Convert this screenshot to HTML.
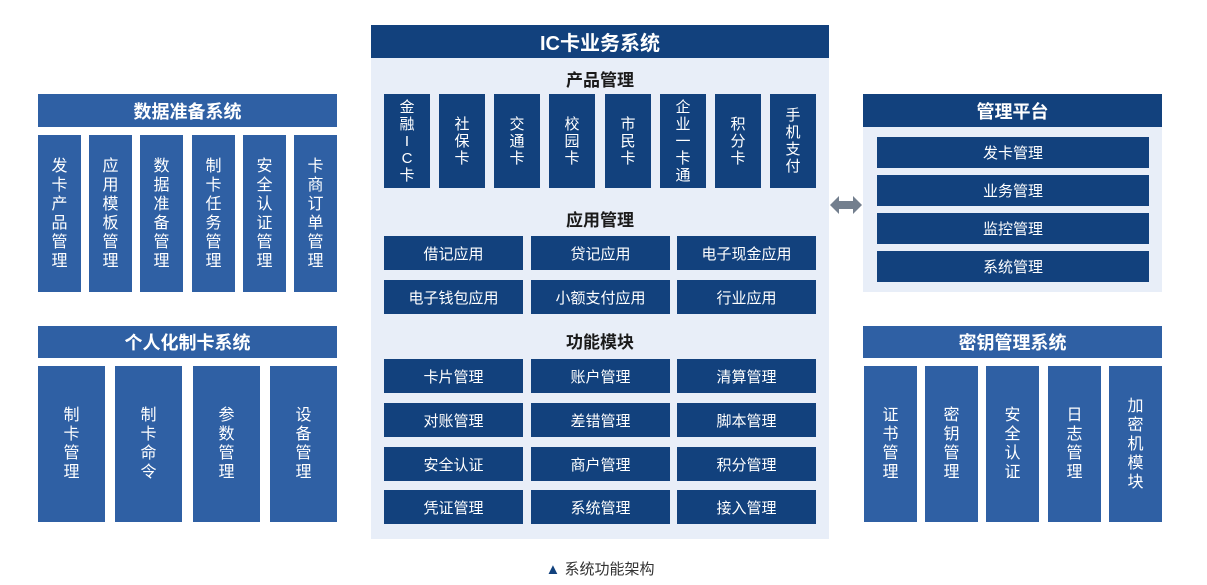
<!DOCTYPE html>
<html><head><meta charset="utf-8"><style>
*{margin:0;padding:0;box-sizing:border-box}
body{width:1207px;height:585px;background:#fff;position:relative;overflow:hidden;font-family:"Liberation Sans","Noto Sans CJK SC",sans-serif}
div{position:absolute}
.n{background:#12417d;color:#fff}
.s{background:#2f60a4;color:#fff}
.lt{background:#e8eef8}
.h{display:flex;align-items:center;justify-content:center;font-weight:bold;font-size:18px;color:#fff}
.c{display:flex;align-items:center;justify-content:center;text-align:center;font-size:15px;color:#fff}
.v{display:flex;align-items:center;justify-content:center;text-align:center;font-size:16px;line-height:19px;color:#fff}
.p{font-size:15px;line-height:17px}
.t{font-weight:bold;font-size:17px;color:#1a1a1a;text-align:center;width:458px;left:371px}
</style></head><body>
<div class="lt" style="left:371px;top:25px;width:458px;height:514px"></div>
<div class="n h" style="left:371px;top:25px;width:458px;height:33px;font-size:20px">IC卡业务系统</div>
<div class="t" style="top:66px">产品管理</div>
<div class="n v p" style="left:384px;top:94px;width:46px;height:94px">金<br>融<br>I<br>C<br>卡</div>
<div class="n v p" style="left:439px;top:94px;width:46px;height:94px">社<br>保<br>卡</div>
<div class="n v p" style="left:494px;top:94px;width:46px;height:94px">交<br>通<br>卡</div>
<div class="n v p" style="left:549px;top:94px;width:46px;height:94px">校<br>园<br>卡</div>
<div class="n v p" style="left:605px;top:94px;width:46px;height:94px">市<br>民<br>卡</div>
<div class="n v p" style="left:660px;top:94px;width:46px;height:94px">企<br>业<br>一<br>卡<br>通</div>
<div class="n v p" style="left:715px;top:94px;width:46px;height:94px">积<br>分<br>卡</div>
<div class="n v p" style="left:770px;top:94px;width:46px;height:94px">手<br>机<br>支<br>付</div>
<div class="t" style="top:206px">应用管理</div>
<div class="n c" style="left:384px;top:236px;width:139px;height:34px">借记应用</div>
<div class="n c" style="left:531px;top:236px;width:139px;height:34px">贷记应用</div>
<div class="n c" style="left:677px;top:236px;width:139px;height:34px">电子现金应用</div>
<div class="n c" style="left:384px;top:280px;width:139px;height:34px">电子钱包应用</div>
<div class="n c" style="left:531px;top:280px;width:139px;height:34px">小额支付应用</div>
<div class="n c" style="left:677px;top:280px;width:139px;height:34px">行业应用</div>
<div class="t" style="top:328px">功能模块</div>
<div class="n c" style="left:384px;top:359px;width:139px;height:34px">卡片管理</div>
<div class="n c" style="left:531px;top:359px;width:139px;height:34px">账户管理</div>
<div class="n c" style="left:677px;top:359px;width:139px;height:34px">清算管理</div>
<div class="n c" style="left:384px;top:403px;width:139px;height:34px">对账管理</div>
<div class="n c" style="left:531px;top:403px;width:139px;height:34px">差错管理</div>
<div class="n c" style="left:677px;top:403px;width:139px;height:34px">脚本管理</div>
<div class="n c" style="left:384px;top:447px;width:139px;height:34px">安全认证</div>
<div class="n c" style="left:531px;top:447px;width:139px;height:34px">商户管理</div>
<div class="n c" style="left:677px;top:447px;width:139px;height:34px">积分管理</div>
<div class="n c" style="left:384px;top:490px;width:139px;height:34px">凭证管理</div>
<div class="n c" style="left:531px;top:490px;width:139px;height:34px">系统管理</div>
<div class="n c" style="left:677px;top:490px;width:139px;height:34px">接入管理</div>
<div class="s h" style="left:38px;top:94px;width:299px;height:33px">数据准备系统</div>
<div class="s v" style="left:38px;top:135px;width:43px;height:157px">发<br>卡<br>产<br>品<br>管<br>理</div>
<div class="s v" style="left:89px;top:135px;width:43px;height:157px">应<br>用<br>模<br>板<br>管<br>理</div>
<div class="s v" style="left:140px;top:135px;width:43px;height:157px">数<br>据<br>准<br>备<br>管<br>理</div>
<div class="s v" style="left:192px;top:135px;width:43px;height:157px">制<br>卡<br>任<br>务<br>管<br>理</div>
<div class="s v" style="left:243px;top:135px;width:43px;height:157px">安<br>全<br>认<br>证<br>管<br>理</div>
<div class="s v" style="left:294px;top:135px;width:43px;height:157px">卡<br>商<br>订<br>单<br>管<br>理</div>
<div class="s h" style="left:38px;top:326px;width:299px;height:32px">个人化制卡系统</div>
<div class="s v" style="left:38px;top:366px;width:67px;height:156px">制<br>卡<br>管<br>理</div>
<div class="s v" style="left:115px;top:366px;width:67px;height:156px">制<br>卡<br>命<br>令</div>
<div class="s v" style="left:193px;top:366px;width:67px;height:156px">参<br>数<br>管<br>理</div>
<div class="s v" style="left:270px;top:366px;width:67px;height:156px">设<br>备<br>管<br>理</div>
<div class="lt" style="left:863px;top:94px;width:299px;height:198px"></div>
<div class="n h" style="left:863px;top:94px;width:299px;height:33px">管理平台</div>
<div class="n c" style="left:877px;top:137px;width:272px;height:31px">发卡管理</div>
<div class="n c" style="left:877px;top:175px;width:272px;height:31px">业务管理</div>
<div class="n c" style="left:877px;top:213px;width:272px;height:31px">监控管理</div>
<div class="n c" style="left:877px;top:251px;width:272px;height:31px">系统管理</div>
<svg style="position:absolute;left:829px;top:194px" width="34" height="22"><polygon points="1,11 10,2 10,7 24,7 24,2 33,11 24,20 24,15 10,15 10,20" fill="#737f8e"/></svg>
<div class="s h" style="left:863px;top:326px;width:299px;height:32px">密钥管理系统</div>
<div class="s v" style="left:864px;top:366px;width:53px;height:156px">证<br>书<br>管<br>理</div>
<div class="s v" style="left:925px;top:366px;width:53px;height:156px">密<br>钥<br>管<br>理</div>
<div class="s v" style="left:986px;top:366px;width:53px;height:156px">安<br>全<br>认<br>证</div>
<div class="s v" style="left:1048px;top:366px;width:53px;height:156px">日<br>志<br>管<br>理</div>
<div class="s v" style="left:1109px;top:366px;width:53px;height:156px">加<br>密<br>机<br>模<br>块</div>
<div style="left:500px;top:558px;width:200px;text-align:center;font-size:15px;color:#333"><span style="color:#12417d;font-size:15px">▲</span> 系统功能架构</div>
</body></html>
